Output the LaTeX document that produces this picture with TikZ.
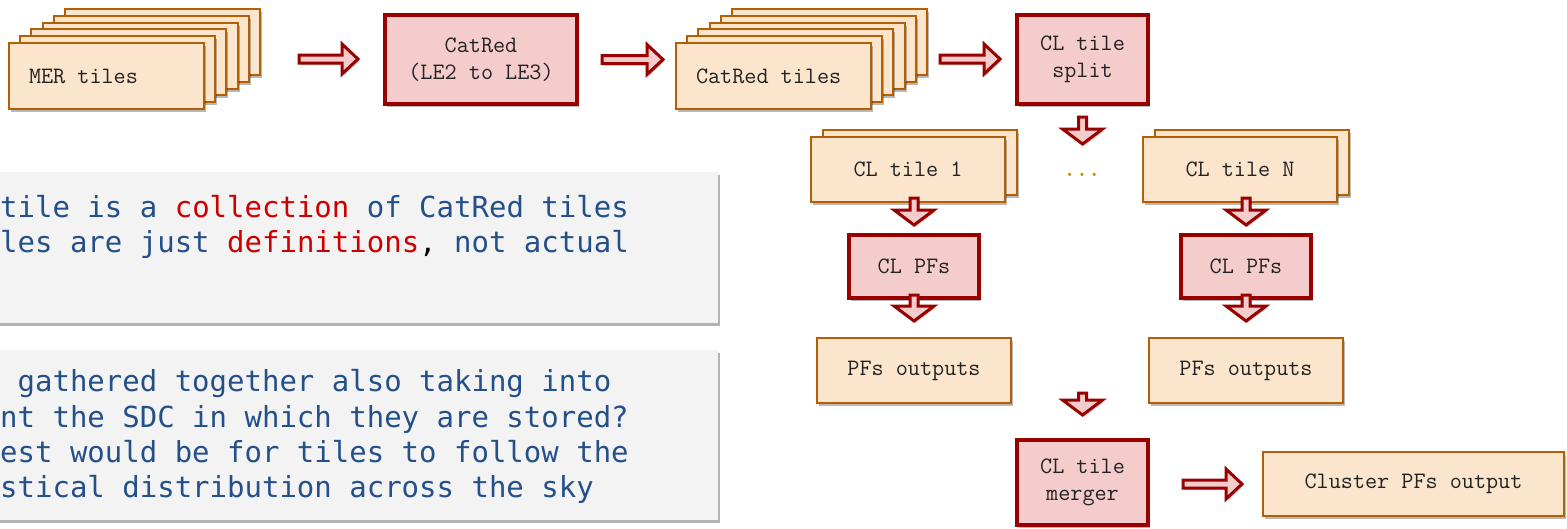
\documentclass[tikz,border=0pt]{standalone}
\usepackage{fontspec}
\newfontfamily\notefont{DejaVu Sans Mono}
\usetikzlibrary{calc,shadows}
\definecolor{ofill}{HTML}{FCE5CD}
\definecolor{odraw}{HTML}{B45F06}
\definecolor{rfill}{HTML}{F4CCCC}
\definecolor{rdraw}{HTML}{990000}
\definecolor{nfill}{HTML}{F3F3F3}
\definecolor{ntext}{HTML}{24508A}
\definecolor{nred}{HTML}{CC0000}
\definecolor{dotcol}{HTML}{BF9000}
\definecolor{btext}{HTML}{222222}
\newcommand\boxfont{\ttfamily\fontsize{23.5}{27}\selectfont}
\newcommand\nfont{\notefont\fontsize{29}{35}\selectfont}
\tikzset{
  shd/.style={drop shadow={shadow xshift=2pt,shadow yshift=-3pt,opacity=0.28,fill=black}},
  obox/.style={draw=odraw,fill=ofill,line width=2pt,shd,inner sep=0pt,font=\boxfont,text=btext,align=center},
  rbox/.style={draw=rdraw,fill=rfill,line width=4pt,shd,inner sep=0pt,font=\boxfont,text=btext,align=center},
  barrow/.style={draw=rdraw,fill=rfill,line width=3pt,line join=miter,drop shadow={shadow xshift=1.5pt,shadow yshift=-2pt,opacity=0.2,fill=black}},
  notebox/.style={fill=nfill,draw=none,inner sep=0pt,drop shadow={shadow xshift=2pt,shadow yshift=-3pt,opacity=0.3,fill=black}},
  notetext/.style={anchor=base west,inner sep=0pt,font=\nfont,text=ntext},
}
\newcommand\rarrow[2]{\draw[barrow] let \p1=(#1), \p2=(#2) in
  (\x1,\y1+4pt) -- (\x2-16pt,\y1+4pt) -- (\x2-16pt,\y1+15pt) -- (\x2,\y1)
  -- (\x2-16pt,\y1-15pt) -- (\x2-16pt,\y1-4pt) -- (\x1,\y1-4pt) -- cycle;}
\newcommand\darrow[2]{\draw[barrow] let \p1=(#1), \p2=(#2) in
  (\x1-4pt,\y1) -- (\x1-4pt,\y2+15pt) -- (\x1-20pt,\y2+15pt) -- (\x1,\y2)
  -- (\x1+20pt,\y2+15pt) -- (\x1+4pt,\y2+15pt) -- (\x1+4pt,\y1) -- cycle;}
\begin{document}
\begin{tikzpicture}[x=1pt,y=-1pt]
\useasboundingbox (0,0) rectangle (1567,528);
\clip (0,0) rectangle (1567,528);
% notes
\node[notebox,minimum width=740pt,minimum height=151pt] (note1) at (348,247.5) {};
\node[notebox,minimum width=740pt,minimum height=170pt] (note2) at (348,435) {};
\node[notetext] (n1a) at (0,217) {tile is a \textcolor{nred}{collection} of CatRed tiles};
\node[notetext] (n1b) at (0,252) {les are just \textcolor{nred}{definitions}\textcolor{black}{,} not actual};
\node[notetext] (n2a) at (0,391) {\hphantom{g}gathered together also taking into};
\node[notetext] (n2b) at (0,427) {nt the SDC in which they are stored?};
\node[notetext] (n2c) at (0,462) {est would be for tiles to follow the};
\node[notetext] (n2d) at (0,497) {stical distribution across the sky};
% MER tiles stack
\foreach \k in {5,4,3,2,1}{
  \node[obox,minimum width=195pt,minimum height=66pt] (mer\k) at (106.5+11.2*\k,76-6.8*\k) {};
}
\node[obox,minimum width=195pt,minimum height=66pt] (mer) at (106.5,76) {\makebox[155pt][l]{MER tiles}};
% CatRed
\node[rbox,minimum width=192pt,minimum height=89pt] (catred) at (481,59.5) {CatRed\\(LE2 to LE3)};
% CatRed tiles stack
\foreach \k in {5,4,3,2,1}{
  \node[obox,minimum width=195pt,minimum height=66pt] (crt\k) at (773.5+11.2*\k,76-6.8*\k) {};
}
\node[obox,minimum width=195pt,minimum height=66pt] (crt) at (773.5,76) {\makebox[155pt][l]{CatRed tiles}};
% split
\node[rbox,minimum width=131pt,minimum height=89pt] (split) at (1082.5,59.5) {CL tile\\split};
% CL tiles
\node[obox,minimum width=194pt,minimum height=65pt] (t1b) at (919.5,162.5) {};
\node[obox,minimum width=194pt,minimum height=65pt] (t1) at (908,169.5) {CL tile 1};
\node[obox,minimum width=194pt,minimum height=65pt] (tNb) at (1251.5,162.5) {};
\node[obox,minimum width=194pt,minimum height=65pt] (tN) at (1240,169.5) {CL tile N};
\node[font=\boxfont\bfseries,text=dotcol,inner sep=0pt] (dots) at (1082,175) {...};
% PFs
\node[rbox,minimum width=130pt,minimum height=63pt] (pf1) at (914,266.5) {CL PFs};
\node[rbox,minimum width=130pt,minimum height=63pt] (pfN) at (1246,266.5) {CL PFs};
\node[obox,minimum width=194pt,minimum height=65pt] (o1) at (914,370.5) {PFs outputs};
\node[obox,minimum width=194pt,minimum height=65pt] (oN) at (1246,370.5) {PFs outputs};
% merger
\node[rbox,minimum width=131pt,minimum height=85pt] (merger) at (1082.5,482.5) {CL tile\\merger};
\node[obox,minimum width=301pt,minimum height=64pt] (cluster) at (1413.5,484) {Cluster PFs output};
% arrow end points
\coordinate (a1s) at ($(mer5.east)+(38,17)$);
\coordinate (a1e) at ($(catred.west)+(-25,0)$);
\coordinate (a2s) at ($(catred.east)+(23,0)$);
\coordinate (a2e) at ($(crt.west)+(-12,-17)$);
\coordinate (a3s) at ($(crt5.east)+(12,17)$);
\coordinate (a3e) at ($(split.west)+(-15,0)$);
\coordinate (d1s) at ($(split.south)+(0,11)$);
\coordinate (d1e) at ($(split.south)+(0,38)$);
\coordinate (d2s) at ($(t1.south)+(6,-5)$);
\coordinate (d2e) at ($(t1.south)+(6,22)$);
\coordinate (d3s) at ($(tN.south)+(6,-5)$);
\coordinate (d3e) at ($(tN.south)+(6,22)$);
\coordinate (d4s) at ($(pf1.south)+(0,-5)$);
\coordinate (d4e) at ($(pf1.south)+(0,21)$);
\coordinate (d5s) at ($(pfN.south)+(0,-5)$);
\coordinate (d5e) at ($(pfN.south)+(0,21)$);
\coordinate (d6s) at ($(merger.north)+(0,-45)$);
\coordinate (d6e) at ($(merger.north)+(0,-23)$);
\coordinate (a4s) at ($(merger.east)+(33,1.5)$);
\coordinate (a4e) at ($(cluster.west)+(-20,0)$);
\rarrow{a1s}{a1e}
\rarrow{a2s}{a2e}
\rarrow{a3s}{a3e}
\rarrow{a4s}{a4e}
\darrow{d1s}{d1e}
\darrow{d2s}{d2e}
\darrow{d3s}{d3e}
\darrow{d4s}{d4e}
\darrow{d5s}{d5e}
\darrow{d6s}{d6e}
\end{tikzpicture}
\end{document}
